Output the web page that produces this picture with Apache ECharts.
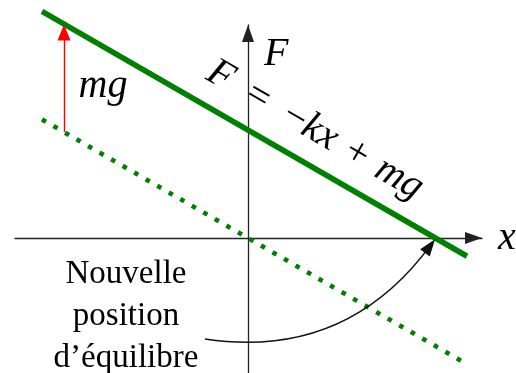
<!DOCTYPE html>
<html>
<head>
<meta charset="utf-8">
<script src="https://cdn.jsdelivr.net/npm/echarts@6/dist/echarts.min.js"></script>
<style>
  html, body { margin: 0; padding: 0; background: #fff; }
  #chart { width: 516px; height: 373px; }
</style>
</head>
<body>
<div id="chart"></div>
<script>
// axis extents (1 unit ~ 20px)
const xRange = [-11.65, 11.7];
const yRange = [-6.75, 10.65];

// F = -kx + mg  (solid) and F = -kx (dotted), end points
const forceLine = [[-10.3, 11.33], [10.95, -0.91]];
const springLine = [[-10.3, 5.93], [10.9, -6.28]];

// arrows (end point = centre of the arrow head)
const weightArrow = [[-9.2, 5.3], [-9.2, 10.27]];
const shiftArrow = [[-2.15, -5.05], [9.1, -0.4]];

const axisNames = ['x', 'F'];
const weightText = 'mg';
const equationText = '{i|F}{n|\u2002=\u2002\u2212}{i|kx}{n|\u2004+\u2004}{i|mg}';
const noteText = 'Nouvelle\nposition\nd\u2019équilibre';

const green = '#008000';
const serif = 'Liberation Serif';

// angle of the force line (same px per unit on both axes)
const slopeDeg = Math.atan2(forceLine[0][1] - forceLine[1][1], forceLine[1][0] - forceLine[0][0]) * 180 / Math.PI;

const plain = {color: '#000', opacity: 1, textBorderWidth: 0, textBorderColor: 'transparent', textShadowBlur: 0};
const mathStyle = Object.assign({fontFamily: serif, fontStyle: 'italic', fontSize: 40}, plain);

function axisCommon(range) {
    return {
        type: 'value',
        min: range[0],
        max: range[1],
        axisLine: {
            onZero: true,
            symbol: ['none', 'triangle'],
            symbolSize: [12, 17],
            symbolOffset: [0, -8.5],
            lineStyle: {color: '#222', width: 1.3}
        },
        axisTick: {show: false},
        axisLabel: {show: false},
        splitLine: {show: false}
    };
}

const chart = echarts.init(document.getElementById('chart'), null, {renderer: 'canvas'});

chart.setOption({
    animation: false,
    backgroundColor: '#fff',
    grid: {left: 15, right: 34, top: 25, bottom: 0, containLabel: false, outerBoundsMode: 'none'},
    xAxis: Object.assign(axisCommon(xRange), {
        name: axisNames[0],
        nameLocation: 'end',
        nameGap: 16,
        nameTextStyle: Object.assign({}, mathStyle, {align: 'left', verticalAlign: 'middle', padding: [0, 0, 8, 0]})
    }),
    yAxis: Object.assign(axisCommon(yRange), {
        name: axisNames[1],
        nameLocation: 'end',
        nameGap: -29,
        nameTextStyle: Object.assign({}, mathStyle, {align: 'left', verticalAlign: 'middle', padding: [0, 0, 0, 16]})
    }),
    series: [
        {
            name: 'F = -kx + mg',
            type: 'line',
            data: forceLine,
            clip: false,
            showSymbol: false,
            symbol: 'none',
            lineStyle: {color: green, width: 5.6, cap: 'butt'},
            z: 3
        },
        {
            name: 'F = -kx',
            type: 'line',
            data: springLine,
            clip: false,
            showSymbol: false,
            symbol: 'none',
            lineStyle: {color: green, width: 4.6, type: [4.6, 8.7], cap: 'butt'},
            z: 3
        },
        {
            name: 'mg',
            type: 'lines',
            coordinateSystem: 'cartesian2d',
            clip: false,
            symbol: ['none', 'triangle'],
            symbolSize: [1, [13, 16]],
            lineStyle: {color: '#ff0000', width: 1.4, opacity: 1},
            data: [{coords: weightArrow}],
            z: 4
        },
        {
            name: 'shift',
            type: 'lines',
            coordinateSystem: 'cartesian2d',
            clip: false,
            symbol: ['none', 'triangle'],
            symbolSize: [1, [12, 17]],
            lineStyle: {color: '#111', width: 1.3, opacity: 1, curveness: -0.3},
            data: [{coords: shiftArrow}],
            z: 4
        },
        {
            name: 'labels',
            type: 'scatter',
            symbolSize: 0,
            clip: false,
            silent: true,
            itemStyle: {color: '#000', opacity: 1},
            data: [
                {
                    value: [-7.25, 7.6],
                    label: Object.assign({show: true, position: 'inside', formatter: weightText}, mathStyle)
                },
                {
                    value: [3.35, 5.4],
                    label: Object.assign({show: true, position: 'inside', formatter: equationText, rotate: -slopeDeg,
                        rich: {
                            i: mathStyle,
                            n: Object.assign({fontFamily: serif, fontSize: 40}, plain)
                        }}, plain)
                },
                {
                    value: [-6.1, -3.9],
                    label: Object.assign({show: true, position: 'inside', formatter: noteText, align: 'center',
                        fontFamily: serif, fontSize: 33, lineHeight: 42}, plain)
                }
            ],
            z: 5
        }
    ]
});
</script>
</body>
</html>
